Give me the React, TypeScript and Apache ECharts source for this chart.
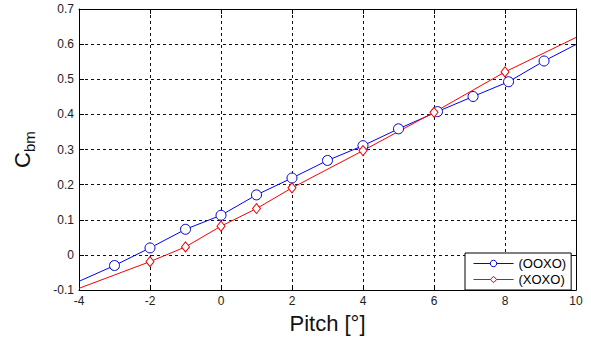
import React, { useEffect, useRef } from "react";
import * as echarts from "echarts";

const xTicks = [-4, -2, 0, 2, 4, 6, 8, 10];
const yTicks = [-0.1, 0, 0.1, 0.2, 0.3, 0.4, 0.5, 0.6, 0.7];

const seriesNames = ["(OOXO)", "(XOXO)"];

// line end points (drawn without markers)
const ooxoEnds = [[-4, -0.075], [10, 0.599]];
const xoxoEnds = [[-4, -0.095], [10, 0.619]];

// marker points
const ooxoX = [-3, -2, -1, 0, 1, 2, 3, 4, 5, 6.1, 7.1, 8.1, 9.1];
const ooxoY = [-0.03, 0.02, 0.073, 0.113, 0.171, 0.219, 0.269, 0.311, 0.359, 0.408, 0.451, 0.493, 0.552];

const xoxoX = [-2, -1, 0, 1, 2, 4, 6, 8];
const xoxoY = [-0.019, 0.023, 0.082, 0.132, 0.191, 0.297, 0.406, 0.521];

const FONT = "Liberation Sans, Arial, sans-serif";

function buildData(xs: number[], ys: number[], ends: number[][]) {
  const pts: any[] = [{ value: ends[0], symbol: "none" }];
  xs.forEach((x, i) => pts.push({ value: [x, ys[i]] }));
  pts.push({ value: ends[1], symbol: "none" });
  return pts;
}

export default function App() {
  const ref = useRef<HTMLDivElement>(null);
  useEffect(() => {
    if (!ref.current) return;
    const chart = echarts.init(ref.current, null, { renderer: "svg" });
    const axisLabel = { fontSize: 12, color: "#222", fontFamily: FONT };
    chart.setOption({
      animation: false,
      backgroundColor: "#fff",
      grid: { left: 79, right: 15, top: 9, bottom: 44 },
      legend: {
        data: seriesNames,
        orient: "vertical",
        left: 465,
        top: 253,
        backgroundColor: "#fff",
        borderColor: "#000",
        borderWidth: 1,
        borderRadius: 0,
        padding: [4, 5, 4, 8],
        itemWidth: 40,
        itemHeight: 8,
        itemGap: 3,
        lineStyle: { width: 1 },
        itemStyle: { borderWidth: 1 },
        textStyle: { fontSize: 13, lineHeight: 13, color: "#000", fontFamily: FONT },
      },
      xAxis: [
        {
          type: "value",
          min: xTicks[0],
          max: xTicks[xTicks.length - 1],
          interval: 2,
          name: "Pitch [°]",
          nameLocation: "middle",
          nameGap: 13,
          nameTextStyle: { fontSize: 22, color: "#111", fontFamily: FONT, verticalAlign: "top" },
          axisLine: { show: true, onZero: false, lineStyle: { color: "#000", width: 1 } },
          axisTick: { show: true, inside: true, length: 5, lineStyle: { color: "#000" } },
          axisLabel: { ...axisLabel, margin: 5 },
          splitLine: { show: true, lineStyle: { color: "#111", type: [3, 3], width: 1 } },
        },
        {
          type: "value",
          position: "top",
          min: xTicks[0],
          max: xTicks[xTicks.length - 1],
          interval: 2,
          axisLine: { show: true, onZero: false, lineStyle: { color: "#000", width: 1 } },
          axisTick: { show: true, inside: true, length: 5, lineStyle: { color: "#000" } },
          axisLabel: { show: false },
          splitLine: { show: false },
        },
      ],
      yAxis: [
        {
          type: "value",
          min: yTicks[0],
          max: yTicks[yTicks.length - 1],
          interval: 0.1,
          name: "{c|C}{s|bm}",
          nameLocation: "middle",
          nameRotate: 90,
          nameGap: 44,
          nameTextStyle: {
            rich: {
              c: { fontSize: 22, lineHeight: 24, verticalAlign: "top", color: "#111", fontFamily: FONT },
              s: { fontSize: 15, lineHeight: 15, padding: [11, 0, 0, 0], verticalAlign: "top", color: "#111", fontFamily: FONT },
            },
          },
          axisLine: { show: true, onZero: false, lineStyle: { color: "#000", width: 1 } },
          axisTick: { show: true, inside: true, length: 5, lineStyle: { color: "#000" } },
          axisLabel: {
            ...axisLabel,
            margin: 5,
            formatter: (v: number) => {
              const r = Math.round(v * 10) / 10;
              return r === 0 ? "0" : String(r);
            },
          },
          splitLine: { show: true, lineStyle: { color: "#111", type: [3, 3], width: 1 } },
        },
        {
          type: "value",
          position: "right",
          min: yTicks[0],
          max: yTicks[yTicks.length - 1],
          interval: 0.1,
          axisLine: { show: true, onZero: false, lineStyle: { color: "#000", width: 1 } },
          axisTick: { show: true, inside: true, length: 5, lineStyle: { color: "#000" } },
          axisLabel: { show: false },
          splitLine: { show: false },
        },
      ],
      series: [
        {
          name: seriesNames[0],
          type: "line",
          data: buildData(ooxoX, ooxoY, ooxoEnds),
          symbol: "circle",
          symbolSize: 10,
          showAllSymbol: true,
          lineStyle: { color: "#0000ff", width: 1 },
          itemStyle: { color: "#fff", borderColor: "#0000cc", borderWidth: 1 },
          color: "#0000ff",
        },
        {
          name: seriesNames[1],
          type: "line",
          data: buildData(xoxoX, xoxoY, xoxoEnds),
          symbol: "diamond",
          symbolSize: [8, 10],
          showAllSymbol: true,
          lineStyle: { color: "#ff0000", width: 1 },
          itemStyle: { color: "#fff", borderColor: "#ee0000", borderWidth: 1 },
          color: "#ff0000",
        },
      ],
    });
    return () => chart.dispose();
  }, []);
  return <div ref={ref} style={{ position: "absolute", left: 0, top: 0, width: 591, height: 339 }} />;
}
